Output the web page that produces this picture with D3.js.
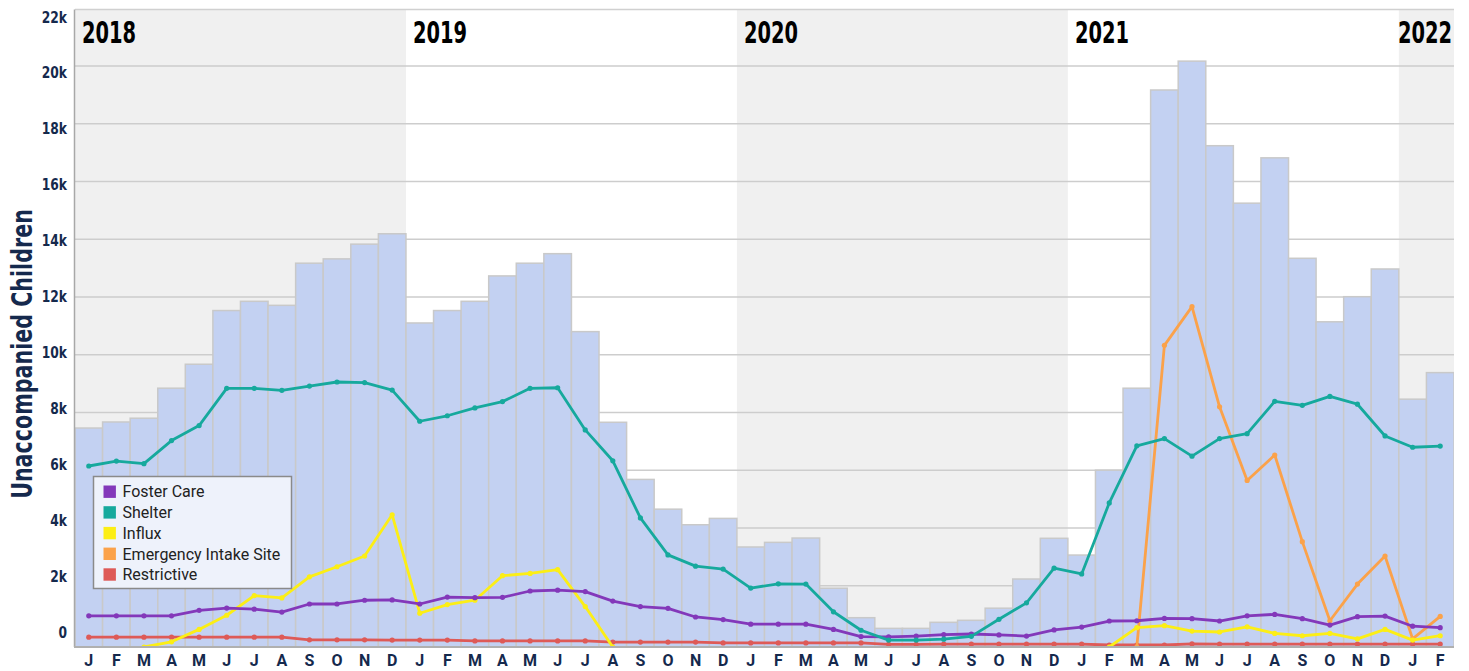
<!DOCTYPE html>
<html lang="en">
<head>
    <meta charset="UTF-8">
    <title>Unaccompanied Children in Care</title>
    <script src="https://d3js.org/d3.v7.min.js"></script>
    <style>
        body {
            margin: 0;
            background: #fff;
        }
        .narrow {
            font-family: "Liberation Sans Narrow", "DejaVu Sans Condensed", sans-serif;
            font-weight: bold;
        }
        .month {
            font-family: Roboto, sans-serif;
            font-weight: bold;
            font-size: 16px;
            fill: #15294d;
        }
        .legend text {
            font-family: Roboto, sans-serif;
            font-size: 16px;
            fill: #222;
        }
    </style>
</head>
<body>
    <div id="chart"></div>

    <script>
        // month letters, Jan 2018 .. Feb 2022
        const months = ["J","F","M","A","M","J","J","A","S","O","N","D",
                        "J","F","M","A","M","J","J","A","S","O","N","D",
                        "J","F","M","A","M","J","J","A","S","O","N","D",
                        "J","F","M","A","M","J","J","A","S","O","N","D",
                        "J","F"];
        const years = ["2018", "2019", "2020", "2021", "2022"];
        const yTicks = [0, 2000, 4000, 6000, 8000, 10000, 12000, 14000, 16000, 18000, 20000, 22000];

        // total children in care (bars)
        const total = [7460, 7670, 7800, 8840, 9670, 11530, 11850, 11710, 13170, 13320, 13830, 14190,
                       11100, 11530, 11850, 12730, 13170, 13500, 10800, 7660, 5680, 4650, 4110, 4330,
                       3340, 3500, 3650, 1910, 890, 520, 520, 730, 800, 1220, 2230, 3640,
                       3060, 6000, 8840, 19170, 20170, 17240, 15250, 16820, 13340, 11140, 12010, 12970,
                       8460, 9380];

        const fosterCare = [1080, 1080, 1080, 1080, 1270, 1350, 1310, 1210, 1490, 1490, 1620, 1630,
                            1490, 1730, 1710, 1720, 1940, 1970, 1920, 1590, 1400, 1340, 1040, 950,
                            790, 790, 790, 610, 360, 350, 380, 430, 450, 420, 380, 590,
                            690, 900, 910, 990, 980, 900, 1080, 1130, 980, 760, 1050, 1070,
                            720, 670];

        const shelter = [6270, 6440, 6350, 7150, 7670, 8960, 8960, 8890, 9040, 9180, 9160, 8900,
                         7820, 8010, 8280, 8500, 8960, 8980, 7520, 6450, 4470, 3190, 2800, 2700,
                         2040, 2190, 2180, 1220, 580, 240, 240, 270, 370, 960, 1530, 2730,
                         2530, 4990, 6970, 7220, 6610, 7220, 7390, 8510, 8370, 8680, 8410, 7310,
                         6920, 6960];

        const influx = [null, null, 0, 180, 610, 1100, 1780, 1700, 2430, 2780, 3150, 4580,
                        1170, 1470, 1620, 2470, 2550, 2680, 1400, 0, null, null, null, null,
                        null, null, null, null, null, null, null, null, null, null, null, null,
                        null, 0, 670, 740, 550, 520, 700, 470, 390, 470, 280, 610,
                        240, 390];

        const emergencyIntake = [null, null, null, null, null, null, null, null, null, null, null, null,
                                 null, null, null, null, null, null, null, null, null, null, null, null,
                                 null, null, null, null, null, null, null, null, null, null, null, null,
                                 null, null, 0, 10450, 11790, 8320, 5770, 6650, 3650, 910, 2180, 3150,
                                 280, 1060];

        const restrictive = [340, 340, 340, 340, 340, 340, 340, 340, 250, 250, 250, 240,
                             240, 240, 210, 210, 210, 210, 210, 170, 170, 170, 170, 140,
                             140, 140, 140, 140, 140, 90, 90, 100, 100, 100, 100, 100,
                             100, 70, 70, 70, 110, 100, 100, 100, 100, 100, 100, 100,
                             100, 100];

        const seriesNames = ["Foster Care", "Shelter", "Influx", "Emergency Intake Site", "Restrictive"];
        const seriesColors = ["#8338ba", "#16a99d", "#fcee15", "#fba24a", "#de5a57"];

        const svgWidth = 1469;
        const svgHeight = 671;
        const plotLeft = 75, plotRight = 1454, plotTop = 9.5, plotBottom = 647;

        const svg = d3.select("#chart").append("svg")
            .attr("width", svgWidth)
            .attr("height", svgHeight);

        const x = d3.scaleBand()
            .domain(d3.range(months.length))
            .range([plotLeft, plotRight])
            .padding(0);

        // bars and gridlines
        const y = d3.scaleLinear().domain([0, 22000]).range([643.4, 8.3]);
        // category lines sit on their own baseline at the axis
        const yLine = d3.scaleLinear().domain([0, 22000]).range([plotBottom, plotBottom - 635.1]);
        // tick label placement
        const yLabel = d3.scaleLinear().domain([0, 22000]).range([632, 17]);

        svg.append("defs").append("clipPath")
            .attr("id", "plot-clip")
            .append("rect")
            .attr("x", plotLeft)
            .attr("y", plotTop)
            .attr("width", plotRight - plotLeft)
            .attr("height", plotBottom - plotTop);

        // year background bands
        years.forEach((yr, i) => {
            const start = x(i * 12);
            const last = Math.min(i * 12 + 11, months.length - 1);
            const end = x(last) + x.bandwidth();
            svg.append("rect")
                .attr("x", start)
                .attr("y", plotTop)
                .attr("width", end - start)
                .attr("height", plotBottom - plotTop)
                .attr("fill", i % 2 === 0 ? "#f0f0f0" : "#ffffff");
        });

        // gridlines
        svg.append("g")
            .selectAll("line")
            .data(yTicks.filter(d => d > 0 && d < 22000))
            .enter().append("line")
            .attr("x1", plotLeft)
            .attr("x2", plotRight)
            .attr("y1", d => y(d))
            .attr("y2", d => y(d))
            .attr("stroke", "#cdcdcd")
            .attr("stroke-width", 1.5);

        // top border
        svg.append("line")
            .attr("x1", plotLeft).attr("x2", plotRight)
            .attr("y1", plotTop).attr("y2", plotTop)
            .attr("stroke", "#d0d0d0")
            .attr("stroke-width", 1.5);

        const plot = svg.append("g").attr("clip-path", "url(#plot-clip)");

        // bars
        plot.append("g")
            .selectAll("rect")
            .data(total)
            .enter().append("rect")
            .attr("x", (d, i) => x(i))
            .attr("y", d => y(d))
            .attr("width", x.bandwidth())
            .attr("height", d => plotBottom + 5 - y(d))
            .attr("fill", "#c3d1f2")
            .attr("stroke", "#c9c9c9")
            .attr("stroke-width", 1.5);

        // year labels (condensed face squeezed to match the narrow original)
        years.forEach((yr, i) => {
            const start = x(i * 12);
            const atEnd = start + 62 > plotRight;
            const tx = atEnd ? plotRight - 2 : start + 7;
            svg.append("text")
                .attr("class", "narrow")
                .attr("transform", `translate(${tx},43) scale(0.72,1)`)
                .attr("text-anchor", atEnd ? "end" : "start")
                .style("font-size", "30px")
                .style("fill", "#000")
                .text(yr);
        });

        // lines
        const seriesData = [fosterCare, shelter, influx, emergencyIntake, restrictive];
        const drawOrder = [4, 3, 2, 0, 1];

        const line = d3.line()
            .defined(d => d != null)
            .x((d, i) => x(i) + x.bandwidth() / 2)
            .y(d => yLine(d));

        drawOrder.forEach(k => {
            const values = seriesData[k];
            plot.append("path")
                .datum(values)
                .attr("d", line)
                .attr("fill", "none")
                .attr("stroke", seriesColors[k])
                .attr("stroke-width", 2.8)
                .attr("stroke-linejoin", "round");

            plot.append("g")
                .selectAll("circle")
                .data(values.map((v, i) => ({ v, i })).filter(d => d.v != null))
                .enter().append("circle")
                .attr("cx", d => x(d.i) + x.bandwidth() / 2)
                .attr("cy", d => yLine(d.v))
                .attr("r", 2.6)
                .attr("fill", seriesColors[k]);
        });

        // axis lines
        svg.append("line")
            .attr("x1", plotLeft - 0.5).attr("x2", plotLeft - 0.5)
            .attr("y1", plotTop).attr("y2", plotBottom)
            .attr("stroke", "#a8a8a8")
            .attr("stroke-width", 1.5);
        svg.append("line")
            .attr("x1", plotLeft - 1).attr("x2", plotRight)
            .attr("y1", plotBottom).attr("y2", plotBottom)
            .attr("stroke", "#b0b0b0")
            .attr("stroke-width", 2);

        // y tick labels
        svg.append("g")
            .selectAll("text")
            .data(yTicks)
            .enter().append("text")
            .attr("class", "narrow")
            .attr("transform", d => `translate(67,${yLabel(d)}) scale(0.88,1)`)
            .attr("dy", "0.36em")
            .attr("text-anchor", "end")
            .style("font-size", "15.5px")
            .style("fill", "#15294d")
            .text(d => d === 0 ? "0" : (d / 1000) + "k");

        // y title
        svg.append("text")
            .attr("class", "narrow")
            .attr("transform", "translate(32,354) rotate(-90) scale(0.82,1)")
            .attr("text-anchor", "middle")
            .style("font-size", "28px")
            .style("fill", "#15294d")
            .text("Unaccompanied Children");

        // month labels
        svg.append("g")
            .selectAll("text")
            .data(months)
            .enter().append("text")
            .attr("class", "month")
            .attr("x", (d, i) => x(i) + x.bandwidth() / 2)
            .attr("y", 666)
            .attr("text-anchor", "middle")
            .text(d => d);

        // legend
        const legend = svg.append("g").attr("class", "legend");
        legend.append("rect")
            .attr("x", 93.5)
            .attr("y", 476.5)
            .attr("width", 198)
            .attr("height", 112)
            .attr("fill", "#eef2fb")
            .attr("stroke", "#8a8a8a")
            .attr("stroke-width", 1.5);

        seriesNames.forEach((name, i) => {
            const cy = 491.7 + i * 20.7;
            legend.append("rect")
                .attr("x", 103.5)
                .attr("y", cy - 6.2)
                .attr("width", 12.4)
                .attr("height", 12.4)
                .attr("fill", seriesColors[i]);
            legend.append("text")
                .attr("x", 122.5)
                .attr("y", cy)
                .attr("dy", "0.36em")
                .text(name);
        });
    </script>
</body>
</html>
